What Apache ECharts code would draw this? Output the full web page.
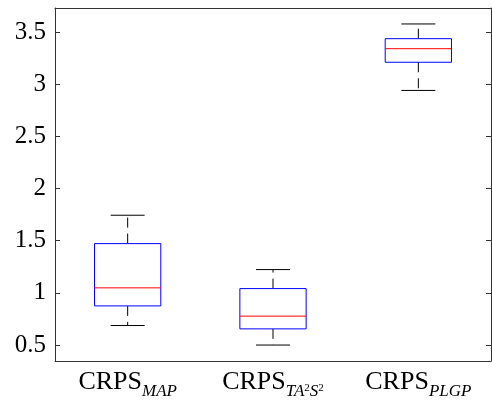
<!DOCTYPE html>
<html>
<head>
<meta charset="utf-8">
<script src="https://cdn.jsdelivr.net/npm/echarts@6/dist/echarts.min.js"></script>
<style>
  html, body { margin: 0; padding: 0; background: #fff; }
  #graph { width: 492px; height: 402px; }
</style>
</head>
<body>
<div id="graph"></div>
<script>
var categories = ['MAP', 'TA2S2', 'PLGP'];
var whiskerLow = [0.687, 0.500, 2.940];
var q1 = [0.875, 0.655, 3.210];
var median = [1.048, 0.777, 3.340];
var q3 = [1.472, 1.041, 3.436];
var whiskerHigh = [1.744, 1.223, 3.577];
var yTicks = [0.5, 1, 1.5, 2, 2.5, 3, 3.5];

// libellés LaTeX approchés en texte riche
var labelText = {
    MAP: '{m|CRPS}{s|MAP}',
    TA2S2: '{m|CRPS}{s|TA}{p|2}{s|S}{p|2}',
    PLGP: '{m|CRPS}{s|PLGP}'
};

var font = 'Liberation Serif';
var frameColor = '#333';

var boxData = categories.map(function (c, i) {
    return [i, whiskerLow[i], q1[i], median[i], q3[i], whiskerHigh[i]];
});

function renderBox(params, api) {
    var x = api.value(0);
    var band = api.size([1, 0])[0];
    var lo = api.coord([x, api.value(1)]);
    var b1 = api.coord([x, api.value(2)]);
    var md = api.coord([x, api.value(3)]);
    var b3 = api.coord([x, api.value(4)]);
    var hi = api.coord([x, api.value(5)]);
    var cx = lo[0];
    var half = band * 0.228;
    var cap = band * 0.117;
    var dash = { stroke: '#000', lineWidth: 1, lineDash: [10, 6] };
    var solid = { stroke: '#000', lineWidth: 1 };
    return {
        type: 'group',
        children: [
            { type: 'line', shape: { x1: cx, y1: b3[1], x2: cx, y2: hi[1] }, style: dash },
            { type: 'line', shape: { x1: cx, y1: b1[1], x2: cx, y2: lo[1] }, style: dash },
            { type: 'line', shape: { x1: cx - cap, y1: hi[1], x2: cx + cap, y2: hi[1] }, style: solid },
            { type: 'line', shape: { x1: cx - cap, y1: lo[1], x2: cx + cap, y2: lo[1] }, style: solid },
            { type: 'rect', shape: { x: cx - half, y: b3[1], width: 2 * half, height: b1[1] - b3[1] },
              style: { fill: '#fff', stroke: '#0000ff', lineWidth: 1 } },
            { type: 'line', shape: { x1: cx - half, y1: md[1], x2: cx + half, y2: md[1] },
              style: { stroke: '#ff0000', lineWidth: 1 } }
        ]
    };
}

var chart = echarts.init(document.getElementById('graph'));

var option = {
    animation: false,
    grid: { left: 55, right: 1, top: 8, bottom: 41 },
    xAxis: [{
        type: 'category',
        data: categories,
        axisLine: { lineStyle: { color: frameColor } },
        axisTick: { inside: true, length: 5, alignWithLabel: true, lineStyle: { color: frameColor } },
        axisLabel: {
            interval: 0,
            hideOverlap: false,
            margin: 8,
            formatter: function (v) { return labelText[v]; },
            rich: {
                m: { fontFamily: font, fontSize: 26, color: '#000', verticalAlign: 'bottom', padding: [0, 0, 5, 0] },
                s: { fontFamily: font, fontSize: 17, fontStyle: 'italic', color: '#000', verticalAlign: 'bottom' },
                p: { fontFamily: font, fontSize: 11, color: '#000', verticalAlign: 'bottom', padding: [0, 0, 6, 0] }
            }
        }
    }, {
        type: 'category',
        position: 'top',
        data: categories,
        axisLine: { lineStyle: { color: frameColor } },
        axisTick: { inside: true, length: 5, alignWithLabel: true, lineStyle: { color: frameColor } },
        axisLabel: { show: false }
    }],
    yAxis: [{
        type: 'value',
        min: 0.347,
        max: 3.73,
        splitLine: { show: false },
        axisLine: { show: true, lineStyle: { color: frameColor } },
        axisTick: { show: true, inside: true, length: 5, customValues: yTicks, lineStyle: { color: frameColor } },
        axisLabel: { customValues: yTicks, margin: 9, fontFamily: font, fontSize: 25, color: '#000' }
    }, {
        type: 'value',
        position: 'right',
        min: 0.347,
        max: 3.73,
        splitLine: { show: false },
        axisLine: { show: true, lineStyle: { color: frameColor } },
        axisTick: { show: true, inside: true, length: 5, customValues: yTicks, lineStyle: { color: frameColor } },
        axisLabel: { show: false }
    }],
    series: [{
        type: 'custom',
        renderItem: renderBox,
        encode: { x: 0, y: [1, 2, 3, 4, 5] },
        data: boxData
    }]
};

chart.setOption(option);
</script>
</body>
</html>
